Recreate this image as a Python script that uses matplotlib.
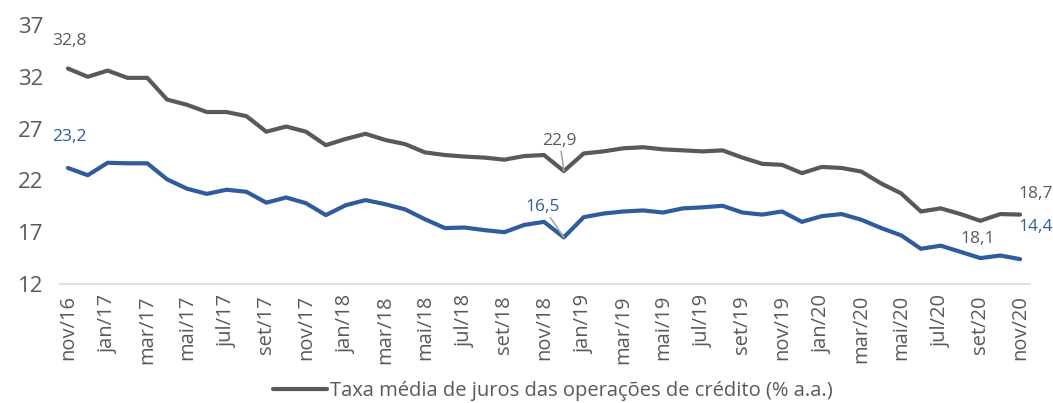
import matplotlib
matplotlib.use("Agg")
import matplotlib.pyplot as plt
import numpy as np

plt.rcParams["font.family"] = ["Open Sans", "DejaVu Sans"]

# monthly, nov/16 .. nov/20
months = ["nov", "dez", "jan", "fev", "mar", "abr", "mai", "jun",
          "jul", "ago", "set", "out"]
labels = [f"{months[i % 12]}/{16 + (i + 10) // 12}" for i in range(49)]

taxa_total = [32.8, 32.0, 32.6, 31.9, 31.9, 29.8, 29.3, 28.6, 28.6, 28.2,
              26.7, 27.2, 26.7, 25.4, 26.0, 26.5, 25.9, 25.5, 24.7, 24.45,
              24.3, 24.2, 24.0, 24.35, 24.45, 22.9, 24.6, 24.8, 25.1, 25.2,
              25.0, 24.9, 24.8, 24.9, 24.2, 23.6, 23.5, 22.7, 23.3, 23.2,
              22.85, 21.7, 20.75, 19.0, 19.3, 18.75, 18.1, 18.75, 18.7]
taxa_pj = [23.2, 22.5, 23.7, 23.65, 23.65, 22.1, 21.2, 20.7, 21.1, 20.9,
           19.85, 20.35, 19.8, 18.65, 19.6, 20.1, 19.7, 19.2, 18.25, 17.4,
           17.45, 17.2, 17.0, 17.7, 18.0, 16.5, 18.45, 18.8, 19.0, 19.1,
           18.9, 19.3, 19.4, 19.55, 18.9, 18.7, 19.0, 18.0, 18.55, 18.75,
           18.2, 17.4, 16.7, 15.4, 15.7, 15.1, 14.5, 14.75, 14.4]

GRAY = "#595959"
BLUE = "#2E5C9C"
x = np.arange(len(labels))

fig = plt.figure(figsize=(10.53, 4.03), dpi=100)
ax = fig.add_axes([60 / 1053, (403 - 284) / 403, 970 / 1053, (284 - 25) / 403])

ax.plot(x, taxa_total, color=GRAY, lw=3.0, solid_joinstyle="round",
        solid_capstyle="round",
        label="Taxa média de juros das operações de crédito (% a.a.)")
ax.plot(x, taxa_pj, color=BLUE, lw=3.0, solid_joinstyle="round",
        solid_capstyle="round")

ax.set_xlim(-0.4, 48.5)
ax.set_ylim(12, 37)
ax.set_yticks([12, 17, 22, 27, 32, 37])
ax.set_xticks(x[::2])
ax.set_xticklabels(labels[::2], rotation=90)
ax.tick_params(axis="y", length=0, labelsize=16, labelcolor=GRAY, pad=12)
ax.tick_params(axis="x", length=0, labelsize=14.5, labelcolor=GRAY, pad=8)
for s in ["top", "right", "left"]:
    ax.spines[s].set_visible(False)
ax.spines["bottom"].set_color("#D9D9D9")
ax.spines["bottom"].set_linewidth(1.2)


def lab(i, series, txt, color, dx, dy, leader=False):
    kw = {}
    if leader:
        kw["arrowprops"] = dict(arrowstyle="-", color="#A6A6A6", lw=1.2,
                                shrinkA=0, shrinkB=0)
    ax.annotate(txt, (x[i], series[i]), xytext=(dx, dy),
                textcoords="offset points", ha="center", va="center",
                color=color, fontsize=12.5, **kw)


fmt = lambda v: f"{v:.1f}".replace(".", ",")
lab(0, taxa_total, fmt(taxa_total[0]), GRAY, 1, 20)
lab(0, taxa_pj, fmt(taxa_pj[0]), BLUE, 1, 22)
lab(25, taxa_total, fmt(taxa_total[25]), GRAY, -3, 22, leader=True)
lab(25, taxa_pj, fmt(taxa_pj[25]), BLUE, -15, 22, leader=True)
lab(46, taxa_total, fmt(taxa_total[46]), GRAY, -2, -13)
lab(48, taxa_total, fmt(taxa_total[48]), GRAY, 11, 15)
lab(48, taxa_pj, fmt(taxa_pj[48]), BLUE, 11, 23)

fig.legend(loc="lower center", bbox_to_anchor=(0.525, -0.04), frameon=False,
           prop={"size": 14.5}, handlelength=2.7, handletextpad=0.15,
           labelcolor=GRAY)

fig.savefig("out.png", dpi=100)
